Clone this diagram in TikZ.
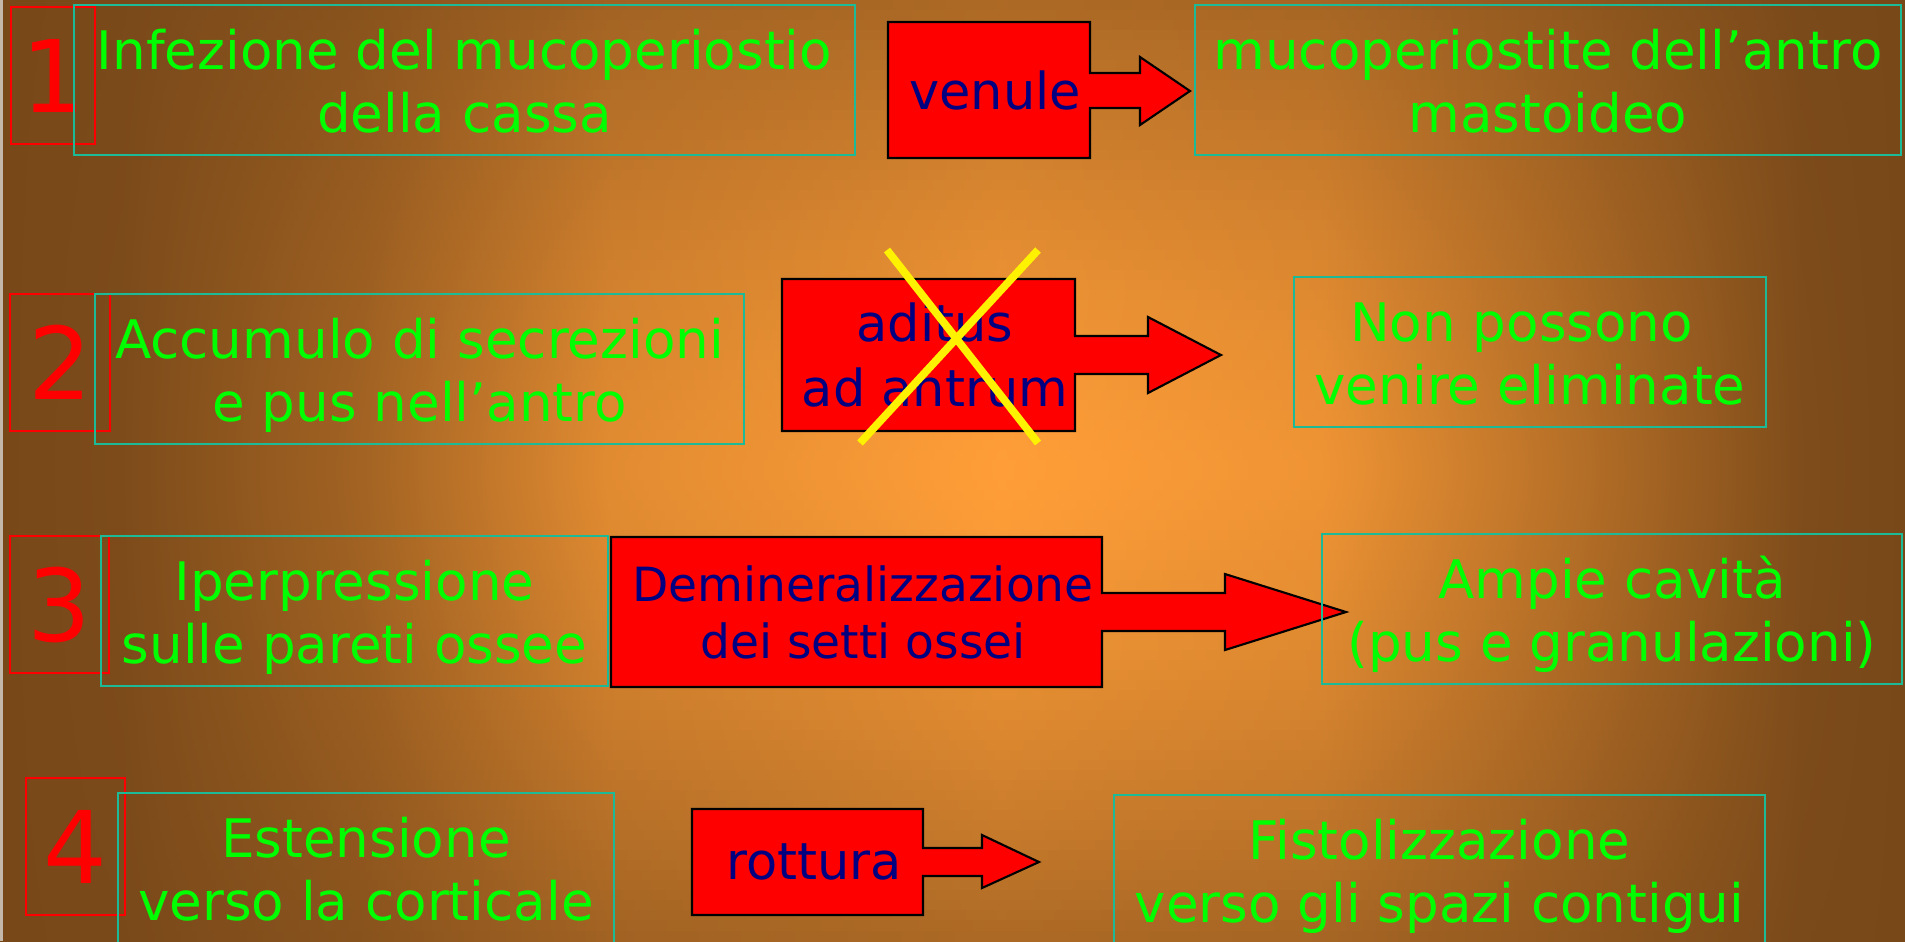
\documentclass[tikz,border=0pt]{standalone}
\usepackage{fontspec}
\setmainfont{DejaVu Sans}
\usetikzlibrary{positioning}

\definecolor{bgin}{RGB}{255,158,56}
\definecolor{bgout}{RGB}{120,72,25}
\definecolor{edgestrip}{RGB}{196,184,170}
\definecolor{boxline}{RGB}{28,186,150}
\definecolor{navytext}{RGB}{0,0,128}
\definecolor{leafgreen}{RGB}{0,255,0}

\begin{document}
\begin{tikzpicture}[x=0.01cm, y=-0.01cm,
    stage/.style={rectangle, draw=boxline, line width=0.6pt, inner sep=0pt, outer sep=0pt, minimum height=1.5cm},
    stagetext/.style={inner sep=0pt, align=center, text=leafgreen, font=\fontsize{15.1}{17.9}\selectfont},
    numbox/.style={rectangle, draw=red, line width=0.6pt, inner sep=0pt, outer sep=0pt, minimum height=1.37cm, text=red, font=\fontsize{28.5}{34}\selectfont},
    pointer/.style={draw=black, fill=red, line width=0.6pt, line join=miter},
    pointertext/.style={inner sep=0pt, align=center, text=navytext, font=\fontsize{14.5}{18.5}\selectfont},
    crossline/.style={draw=yellow, line width=2.2pt}
]
    % Background glow, strip by strip
    \useasboundingbox (0,0) rectangle (1905,941);
    \begin{scope}
        \clip (0,0) rectangle (1905,941);
        \foreach \j in {0,...,93} {
            \pgfmathsetmacro{\ya}{\j*10.0106}
            \pgfmathsetmacro{\yb}{(\j+1)*10.0106+1}
            \pgfmathsetmacro{\va}{0.62*(abs((\j+0.5)*10.0106-470)/470)^1.5}
            \foreach \xa/\xb/\ta/\tb in {0/124/1/0.96, 124/365/0.96/0.68, 365/608/0.68/0.22, 608/1000/0.22/0, 1000/1322/0/0.12, 1322/1550/0.12/0.5, 1550/1800/0.5/0.95, 1800/1905/0.95/1} {
                \pgfmathsetmacro{\pa}{100*(\ta+\va*(1-\ta))}
                \pgfmathsetmacro{\pb}{100*(\tb+\va*(1-\tb))}
                \shade[left color=bgout!\pa!bgin, right color=bgout!\pb!bgin] (\xa,\ya) rectangle (\xb+1,\yb);
            }
        }
        \fill[edgestrip] (0,0) rectangle (3,941);
    \end{scope}

    % Row 1: venule
    \node[numbox, minimum width=0.84cm] (n1) at (53,75.5) {1};
    \node[stage, minimum width=7.81cm] (infez) at (464.5,80) {};
    \node[stagetext, below=0.2cm of infez.north] (infezt) {\strut Infezione del mucoperiostio\\della cassa};
    \draw[pointer] (888,22) -- (1090,22) -- (1090,73) -- (1140,73) -- (1140,57) -- (1190,91) -- (1140,125) -- (1140,108) -- (1090,108) -- (1090,158) -- (888,158) -- cycle;
    \node[pointertext] (venule) at (995,90) {venule};
    \node[stage, minimum width=7.06cm] (mucop) at (1548,80) {};
    \node[stagetext, below=0.2cm of mucop.north] (mucopt) {\strut mucoperiostite dell’antro\\mastoideo};

    % Row 2: aditus ad antrum (blocked)
    \node[numbox, minimum width=1cm] (n2) at (60,362.5) {2};
    \node[stage, minimum width=6.49cm] (accum) at (419.5,369) {};
    \node[stagetext, below=0.2cm of accum.north] (accumt) {\strut Accumulo di secrezioni\\e pus nell’antro};
    \draw[pointer] (782,279) -- (1075,279) -- (1075,336) -- (1148,336) -- (1148,317) -- (1221,355) -- (1148,393) -- (1148,374) -- (1075,374) -- (1075,431) -- (782,431) -- cycle;
    \node[pointertext] (aditus) at (935,355) {aditus\\ad antrum};
    \draw[crossline] (887,250) -- (1038,443);
    \draw[crossline] (1038,250) -- (860,443);
    \node[stage, minimum width=4.72cm] (elim) at (1530,352) {};
    \node[stagetext, below=0.2cm of elim.north] (elimt) {\strut Non possono\hphantom{\ }\\venire eliminate};

    % Row 3: demineralizzazione
    \node[numbox, minimum width=0.99cm] (n3) at (59.5,604.5) {3};
    \node[stage, minimum width=5.07cm] (iper) at (354.5,611) {};
    \node[stagetext, below=0.2cm of iper.north] (ipert) {\strut Iperpressione\\sulle pareti ossee};
    \draw[pointer] (611,537) -- (1102,537) -- (1102,593) -- (1225,593) -- (1225,574) -- (1346,612) -- (1225,650) -- (1225,631) -- (1102,631) -- (1102,687) -- (611,687) -- cycle;
    \node[pointertext, font=\fontsize{13.4}{16.2}\selectfont] (demin) at (863,612) {Demineralizzazione\\dei setti ossei};
    \node[stage, minimum width=5.8cm] (cavita) at (1612,609) {};
    \node[stagetext, below=0.2cm of cavita.north] (cavitat) {\strut Ampie cavità\\(pus e granulazioni)};

    % Row 4: rottura
    \node[numbox, minimum width=0.99cm] (n4) at (75.5,846.5) {4};
    \node[stage, minimum width=4.96cm] (est) at (366,868) {};
    \node[stagetext, below=0.2cm of est.north] (estt) {\strut Estensione\\verso la corticale};
    \draw[pointer] (692,809) -- (923,809) -- (923,848) -- (982,848) -- (982,835) -- (1039,862) -- (982,888) -- (982,876) -- (923,876) -- (923,915) -- (692,915) -- cycle;
    \node[pointertext] (rottura) at (814,862) {rottura};
    \node[stage, minimum width=6.51cm] (fist) at (1439.5,870) {};
    \node[stagetext, below=0.2cm of fist.north] (fistt) {\strut Fistolizzazione\\verso gli spazi contigui};
\end{tikzpicture}
\end{document}
